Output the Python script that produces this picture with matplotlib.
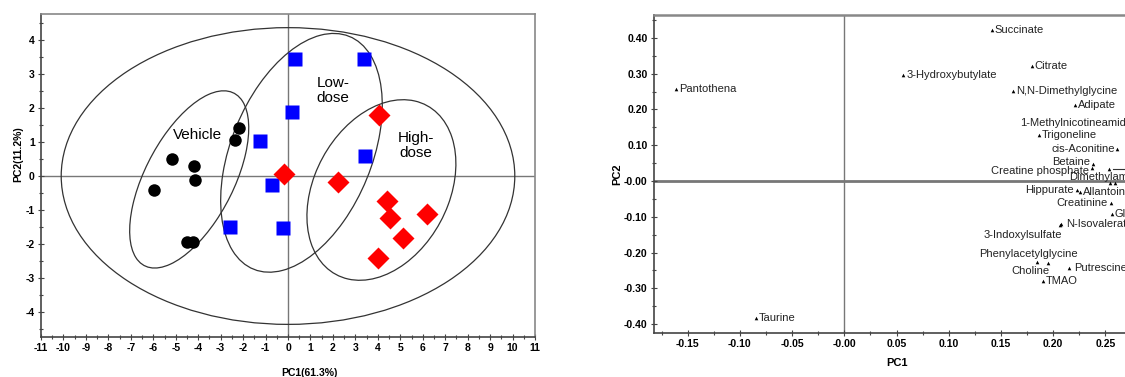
import numpy as np
import matplotlib.pyplot as plt
from matplotlib.patches import Ellipse
from matplotlib.ticker import MultipleLocator, FuncFormatter

plt.rcParams['font.family'] = ['Liberation Sans', 'DejaVu Sans']
plt.rcParams['axes.unicode_minus'] = False

# --- scores plot (left) ---
vehicle_pc1 = [-2.18, -2.35, -5.18, -4.17, -4.12, -5.98, -4.51, -4.24]
vehicle_pc2 = [1.40, 1.06, 0.50, 0.30, -0.12, -0.41, -1.94, -1.94]
low_pc1 = [0.33, 3.38, 0.17, -1.23, 3.42, -0.71, -2.57, -0.21]
low_pc2 = [3.42, 3.42, 1.89, 1.03, 0.59, -0.26, -1.49, -1.53]
high_pc1 = [4.06, -0.19, 2.23, 4.43, 4.55, 6.19, 5.11, 3.99]
high_pc2 = [1.79, 0.05, -0.17, -0.72, -1.24, -1.12, -1.81, -2.41]

# ellipses: (center x, center y, width, height, angle)
ell_total = (0.0, 0.0, 20.2, 8.7, 0)
ell_vehicle = (-4.4, -0.1, 6.6, 3.4, 44)
ell_low = (0.6, 0.68, 8.4, 5.5, 43)
ell_high = (4.16, -0.41, 7.0, 4.8, 26)

group_names = ['Vehicle', 'Low-\ndose', 'High-\ndose']
group_label_pos = [(-4.05, 1.2), (2.0, 2.5), (5.7, 0.9)]

# --- loadings plot (right) ---
metab_names = ['Pantothena', 'Taurine', 'Succinate', '3-Hydroxybutylate', 'Citrate',
               'N,N-Dimethylglycine', 'Adipate', '1-Methylnicotineamide', 'Trigoneline',
               'cis-Aconitine', 'Betaine', 'Creatine phosphate', '', 'Dimethylamine', '',
               'Hippurate', 'Allantoin', 'Creatinine', 'Glycine', 'N-Isovalerate',
               '3-Indoxylsulfate', 'Phenylacetylglycine', 'Choline', 'Putrescine', 'TMAO']
metab_pc1 = [-0.161, -0.085, 0.141, 0.0565, 0.1795, 0.162, 0.221, 0.279, 0.186,
             0.261, 0.2385, 0.237, 0.2536, 0.2545, 0.2593, 0.2229, 0.2258, 0.2552,
             0.2561, 0.2076, 0.2070, 0.1846, 0.1954, 0.2153, 0.190]
metab_pc2 = [0.258, -0.382, 0.422, 0.296, 0.321, 0.251, 0.212, 0.161, 0.128,
             0.0885, 0.047, 0.036, 0.033, -0.0064, -0.0064, -0.025, -0.030, -0.062,
             -0.093, -0.121, -0.123, -0.2254, -0.230, -0.242, -0.2785]

# label placement (offset pixels, ha, va); default is right of the point
label_style = {
    '1-Methylnicotineamide': (-3, 0, 'right', 'center'),
    'cis-Aconitine': (-2, 0, 'right', 'center'),
    'Betaine': (-3, 2, 'right', 'center'),
    'Creatine phosphate': (-3, -3, 'right', 'center'),
    'Dimethylamine': (-4, 1, 'center', 'bottom'),
    'Hippurate': (-3, 0, 'right', 'center'),
    'Creatinine': (-3, 0, 'right', 'center'),
    'N-Isovalerate': (5, 0, 'left', 'center'),
    '3-Indoxylsulfate': (2, -10, 'right', 'center'),
    'Phenylacetylglycine': (-9, 3, 'center', 'bottom'),
    'Choline': (1, -8, 'right', 'center'),
    'Putrescine': (5, 0, 'left', 'center'),
}

fig = plt.figure(figsize=(11.25, 3.77), dpi=100)

# ================= left =================
ax1 = fig.add_axes([41 / 1125, 40 / 377, 494 / 1125, 323 / 377])
ax1.axhline(0, color='#777777', lw=1, zorder=1)
ax1.axvline(0, color='#777777', lw=1, zorder=1)

for cx, cy, w, h, ang in [ell_total, ell_vehicle, ell_low, ell_high]:
    ax1.add_patch(Ellipse((cx, cy), w, h, angle=ang, fill=False,
                          edgecolor='#333333', lw=0.9, zorder=2))

ax1.plot(vehicle_pc1, vehicle_pc2, 'o', color='black', ms=9, mec='none', zorder=3)
ax1.plot(low_pc1, low_pc2, 's', color='#0000ff', ms=9.5, mec='none', zorder=3)
ax1.plot(high_pc1, high_pc2, 'D', color='#ff0000', ms=11, mec='none', zorder=3)

for name, (gx, gy) in zip(group_names, group_label_pos):
    ax1.text(gx, gy, name, fontsize=11, ha='center', va='center',
             linespacing=1.05, zorder=4)

ax1.set_xlim(-11, 11)
ax1.set_ylim(-4.72, 4.75)
ax1.xaxis.set_major_locator(MultipleLocator(1))
ax1.xaxis.set_minor_locator(MultipleLocator(0.5))
ax1.yaxis.set_major_locator(MultipleLocator(1))
ax1.yaxis.set_minor_locator(MultipleLocator(0.5))
ax1.set_xlabel('PC1(61.3%)', fontsize=7.5, fontweight='bold')
ax1.set_ylabel('PC2(11.2%)', fontsize=7.5, fontweight='bold')
ax1.xaxis.set_label_coords(0.5435, -0.096)
ax1.yaxis.set_label_coords(-0.036, 0.567)

# ================= right =================
ax2 = fig.add_axes([654 / 1125, 44 / 377, 486 / 1125, 318 / 377])
ax2.axhline(0, color='#777777', lw=2, zorder=1)
ax2.axvline(0, color='#777777', lw=1, zorder=1)

ax2.plot(metab_pc1, metab_pc2, '^', color='black', ms=2.6, mec='none',
         zorder=3, clip_on=False)
for name, x, y in zip(metab_names, metab_pc1, metab_pc2):
    if not name:
        continue
    dx, dy, ha, va = label_style.get(name, (3, 0, 'left', 'center'))
    ax2.annotate(name, (x, y), xytext=(dx, dy), textcoords='offset pixels',
                 ha=ha, va=va, fontsize=8, color='#222222', zorder=4)
# leader line of the unlabeled loading near the right edge
lx, ly = metab_pc1[12], metab_pc2[12]
ax2.plot([lx + 0.004, lx + 0.06], [ly, ly], color='#333333', lw=0.8, clip_on=False)

ax2.set_xlim(-0.1823, 0.2832)
ax2.set_ylim(-0.4246, 0.4637)
ax2.xaxis.set_major_locator(MultipleLocator(0.05))
ax2.xaxis.set_minor_locator(MultipleLocator(0.025))
ax2.yaxis.set_major_locator(MultipleLocator(0.1))
ax2.yaxis.set_minor_locator(MultipleLocator(0.05))
fmt = FuncFormatter(lambda v, p: '-0.00' if abs(v) < 1e-9 else f'{v:.2f}')
ax2.xaxis.set_major_formatter(fmt)
ax2.yaxis.set_major_formatter(fmt)
ax2.set_xlabel('PC1', fontsize=8, fontweight='bold')
ax2.set_ylabel('PC2', fontsize=8, fontweight='bold')
ax2.xaxis.set_label_coords(0.5, -0.079)
ax2.yaxis.set_label_coords(-0.066, 0.5)

for ax in (ax1, ax2):
    ax.tick_params(which='both', direction='inout', labelsize=7.5, pad=2,
                   color='#444444', width=0.8)
    ax.tick_params(which='major', length=5)
    ax.tick_params(which='minor', length=3.5)
    for lab in ax.get_xticklabels() + ax.get_yticklabels():
        lab.set_fontweight('bold')
    ax.spines['left'].set_color('#444444')
    ax.spines['bottom'].set_color('#444444')
    ax.spines['top'].set_color('#888888')
    ax.spines['right'].set_color('#888888')
    for s in ax.spines.values():
        s.set_linewidth(1.2)
ax2.spines['top'].set_linewidth(1.8)

fig.savefig('out.png', dpi=100)
